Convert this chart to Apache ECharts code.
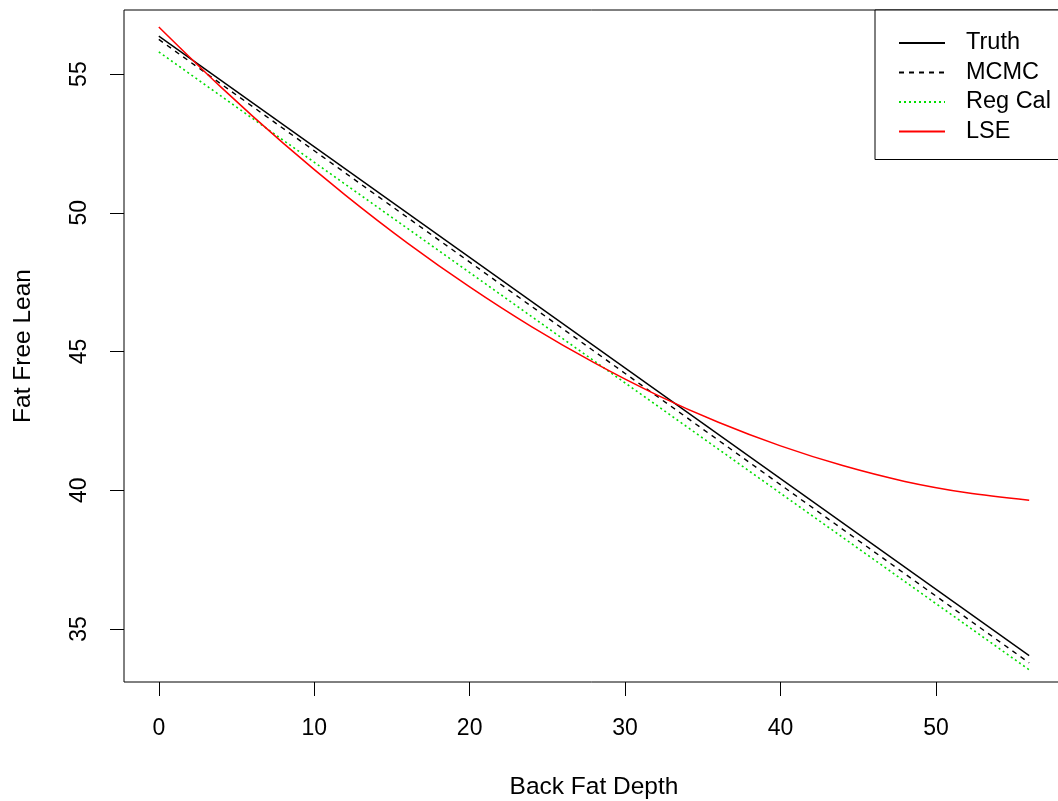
<!DOCTYPE html>
<html>
<head>
<meta charset="utf-8">
<script src="https://cdn.jsdelivr.net/npm/echarts@6/dist/echarts.min.js"></script>
<style>html,body{margin:0;padding:0;background:#fff;}#c{width:1058px;height:801px;}</style>
</head>
<body>
<div id="c"></div>
<script>
// Data
const lineX = [0, 56];
const truthY = [56.37, 34.04];
const mcmcY = [56.25, 33.78];
const regCalY = [55.80, 33.53];
const lseX = [0, 4, 8, 12, 16, 20, 24, 28, 32, 36, 40, 44, 48, 52, 56];
const lseY = [56.70, 54.53, 52.51, 50.64, 48.91, 47.33, 45.89, 44.60, 43.45, 42.45, 41.60, 40.89, 40.32, 39.91, 39.64];
const xTicks = [0, 10, 20, 30, 40, 50];
const yTicks = [35, 40, 45, 50, 55];
const seriesNames = ['Truth', 'MCMC', 'Reg Cal', 'LSE'];

const pairs = (xs, ys) => xs.map((x, i) => [x, ys[i]]);
const FONT = 'Liberation Sans, Arial, sans-serif';

const chart = echarts.init(document.getElementById('c'), null, {renderer: 'canvas'});
chart.setOption({
  animation: false,
  backgroundColor: '#fff',
  grid: {left: 124, top: 10, width: 940, bottom: 119, show: true, borderColor: '#000', borderWidth: 1, containLabel: false, outerBoundsMode: 'none'},
  xAxis: {
    type: 'value', min: -2.24, max: 58.24,
    name: 'Back Fat Depth', nameLocation: 'middle', nameGap: 93, nameMoveOverlap: false,
    nameTextStyle: {fontFamily: FONT, fontSize: 24.5, color: '#000'},
    axisLine: {show: false, onZero: false},
    splitLine: {show: false},
    axisTick: {show: true, inside: false, length: 14, customValues: xTicks, lineStyle: {color: '#000', width: 1}},
    axisLabel: {customValues: xTicks, margin: 35, fontFamily: FONT, fontSize: 23, color: '#000'}
  },
  yAxis: {
    type: 'value', min: 33.09, max: 57.31,
    name: 'Fat Free Lean', nameLocation: 'middle', nameGap: 88, nameRotate: 90, nameMoveOverlap: false,
    nameTextStyle: {fontFamily: FONT, fontSize: 24.5, color: '#000'},
    axisLine: {show: false, onZero: false},
    splitLine: {show: false},
    axisTick: {show: true, inside: false, length: 14, customValues: yTicks, lineStyle: {color: '#000', width: 1}},
    axisLabel: {customValues: yTicks, rotate: 90, margin: 33, fontFamily: FONT, fontSize: 23, color: '#000'}
  },
  legend: {
    orient: 'vertical', left: 875, top: 10,
    padding: [21, 30, 16, 23],
    itemGap: 5.5, itemWidth: 46, itemHeight: 14,
    borderColor: '#000', borderWidth: 1, backgroundColor: '#fff',
    textStyle: {fontFamily: FONT, fontSize: 23.5, color: '#000', padding: [0, 0, 0, 16], lineHeight: 24},
    data: seriesNames
  },
  series: [
    {name: seriesNames[0], type: 'line', data: pairs(lineX, truthY), symbol: 'none', color: '#000', itemStyle: {opacity: 0}, lineStyle: {color: '#000', width: 1.4, type: 'solid'}},
    {name: seriesNames[1], type: 'line', data: pairs(lineX, mcmcY), symbol: 'none', color: '#000', itemStyle: {opacity: 0}, lineStyle: {color: '#000', width: 1.4, type: [5, 5]}},
    {name: seriesNames[2], type: 'line', data: pairs(lineX, regCalY), symbol: 'none', color: '#00dd00', itemStyle: {opacity: 0}, lineStyle: {color: '#00dd00', width: 1.6, type: [2, 3]}},
    {name: seriesNames[3], type: 'line', data: pairs(lseX, lseY), symbol: 'none', smooth: 0.3, color: '#ff0000', itemStyle: {opacity: 0}, lineStyle: {color: '#ff0000', width: 1.5, type: 'solid'}}
  ]
});
</script>
</body>
</html>
